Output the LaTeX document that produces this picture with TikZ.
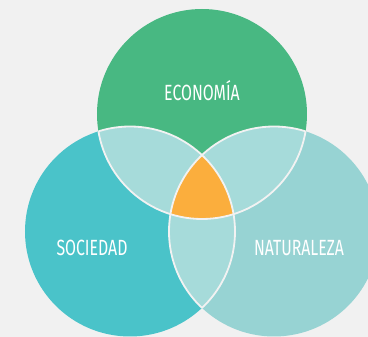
\documentclass[tikz,border=0pt]{standalone}
\usepackage{tikz}
\usepackage{fontspec}
\setmainfont[FakeStretch=0.72]{Fira Sans}
\definecolor{back_grey}{HTML}{F1F1F1}
\definecolor{eco_green}{HTML}{48B882}
\definecolor{soc_teal}{HTML}{4AC3C9}
\definecolor{nat_teal}{HTML}{97D3D3}
\definecolor{pair_teal}{HTML}{A6DBDA}
\definecolor{core_orange}{HTML}{FBAE3D}
\definecolor{line_white}{HTML}{F2F2F2}

\begin{document}
\begin{tikzpicture}[x=1pt,y=1pt,
    label/.style={text=white, font=\fontsize{22}{22}\selectfont, inner sep=0pt, anchor=center}]
    \useasboundingbox (0,0) rectangle (368,337);
    \fill[back_grey] (0,0) rectangle (368,337);
    \clip (0,0) rectangle (368,337);
    \def\rad{105}
    \coordinate (E) at (202,223);
    \coordinate (S) at (130,105.5);
    \coordinate (N) at (274,105.5);
    % the three sets
    \fill[eco_green] (E) circle (\rad);
    \fill[soc_teal] (S) circle (\rad);
    \fill[nat_teal] (N) circle (\rad);
    % pairwise overlaps
    \begin{scope}
      \clip (E) circle (\rad);
      \fill[pair_teal] (S) circle (\rad) (N) circle (\rad);
    \end{scope}
    \begin{scope}
      \clip (S) circle (\rad);
      \fill[pair_teal] (N) circle (\rad);
    \end{scope}
    % common part
    \begin{scope}
      \clip (E) circle (\rad);
      \clip (S) circle (\rad);
      \fill[core_orange] (N) circle (\rad);
    \end{scope}
    % white rims inside the overlaps
    \begin{scope}
      \clip (S) circle (\rad) (N) circle (\rad);
      \draw[line_white, line width=1.8pt] (E) circle (\rad);
    \end{scope}
    \begin{scope}
      \clip (E) circle (\rad) (N) circle (\rad);
      \draw[line_white, line width=1.8pt] (S) circle (\rad);
    \end{scope}
    \begin{scope}
      \clip (E) circle (\rad) (S) circle (\rad);
      \draw[line_white, line width=1.8pt] (N) circle (\rad);
    \end{scope}
    \node[label] (eco) at (202,246) {ECONOMÍA};
    \node[label] (soc) at (92,89) {SOCIEDAD};
    \node[label] (nat) at (299,89) {NATURALEZA};
  \end{tikzpicture}
\end{document}
